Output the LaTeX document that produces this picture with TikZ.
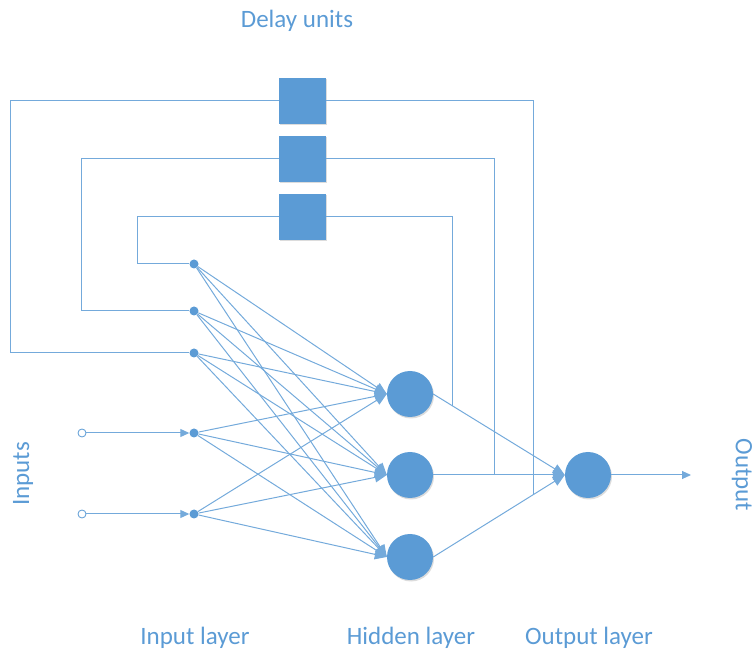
\documentclass[tikz,border=0pt]{standalone}
\usepackage{fontspec}
\setmainfont{Carlito}
\usetikzlibrary{arrows.meta,shadows,calc}
\definecolor{netblue}{HTML}{5B9BD5}
\begin{document}
\begin{tikzpicture}[x=1pt,y=-1pt,
  wire/.style={draw=netblue!85,line width=1pt},
  link/.style={wire,-{Triangle[length=12pt,width=10pt]}},
  feed/.style={wire,-{Triangle[length=9pt,width=8pt]}},
  softshadow/.style={drop shadow={shadow xshift=1pt,shadow yshift=-1.5pt,opacity=0.3,fill=black!45}},
  neuron/.style={circle,fill=netblue,minimum size=46pt,inner sep=0pt,softshadow},
  delay/.style={rectangle,fill=netblue,minimum width=47pt,minimum height=46pt,inner sep=0pt,softshadow},
  dot/.style={circle,fill=netblue,minimum size=9pt,inner sep=0pt},
  port/.style={circle,draw=netblue,fill=white,minimum size=8pt,inner sep=0pt,line width=0.8pt},
  txt/.style={text=netblue,inner sep=0pt,font=\fontsize{25}{30}\selectfont}
]
\useasboundingbox (0,0) rectangle (756,652);

% delay units
\node[delay] (d1) at (302.5,101) {};
\node[delay] (d2) at (302.5,159) {};
\node[delay] (d3) at (302.5,217) {};

% input layer
\node[dot] (in1) at (194,264) {};
\node[dot] (in2) at (194,311) {};
\node[dot] (in3) at (194,353) {};
\node[dot] (in4) at (194,433) {};
\node[dot] (in5) at (194,514) {};
\node[port] (p4) at (82,433) {};
\node[port] (p5) at (82,514) {};

% hidden and output layers
\node[neuron] (h1) at (410,394) {};
\node[neuron] (h2) at (410,475) {};
\node[neuron] (h3) at (410,557) {};
\node[neuron] (o) at (588,475) {};
\coordinate (out) at (691,475);

% external inputs
\draw[feed] (p4) -- (in4);
\draw[feed] (p5) -- (in5);

% input -> hidden
\foreach \i in {1,...,5}
  \foreach \j in {1,2,3}
    \draw[link] (in\i) -- (h\j.west);

% hidden -> output
\foreach \j in {1,2,3}
  \draw[link] (h\j.east) -- (o.west);
\draw[feed] (o) -- (out);

% taps on the hidden->output links feeding the delay units
\coordinate (fb3) at (intersection of h1.east--o.west and 452,0--452,600);
\coordinate (fb2) at (intersection of h2.east--o.west and 494,0--494,600);
\coordinate (fb1) at (intersection of h3.east--o.west and 533,0--533,600);

% recurrent loops
\draw[wire] (fb1) |- (d1.east);
\draw[wire] (fb2) |- (d2.east);
\draw[wire] (fb3) |- (d3.east);
\draw[wire] (d1.west) -- +(-268,0) |- (in3);
\draw[wire] (d2.west) -- +(-197,0) |- (in2);
\draw[wire] (d3.west) -- +(-141,0) |- (in1);

% labels
\node[txt] (tdelay) at (297,21) {Delay units};
\node[txt,rotate=90] (tin) at (23,474) {Inputs};
\node[txt,rotate=-90] (tout) at (742,475) {Output};
\node[txt] (til) at (195,638) {Input layer};
\node[txt] (thl) at (411,638) {Hidden layer};
\node[txt] (tol) at (589,638) {Output layer};
\end{tikzpicture}
\end{document}
